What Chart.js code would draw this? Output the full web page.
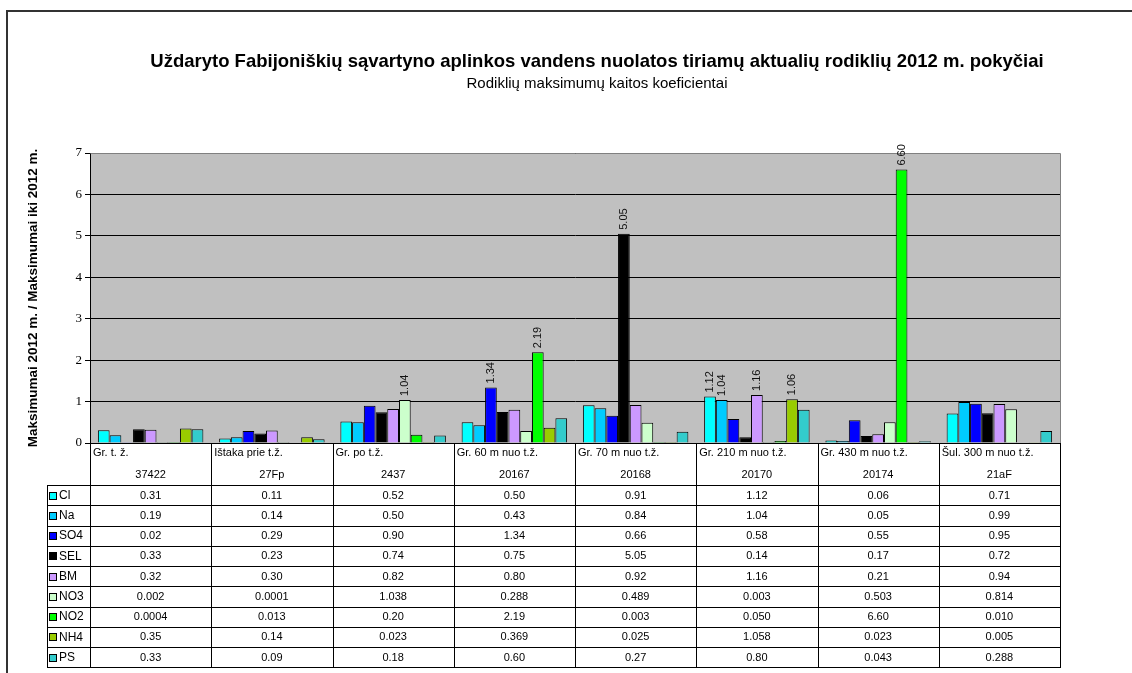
<!DOCTYPE html>
<html>
<head>
<meta charset="utf-8">
<script src="https://cdn.jsdelivr.net/npm/chart.js@4.4.1/dist/chart.umd.min.js"></script>
<style>
  html, body { margin: 0; padding: 0; background: #fff; }
  #wrap { position: relative; width: 1132px; height: 673px; overflow: hidden; }
  #frame { position: absolute; left: 6px; top: 10px; width: 1200px; height: 700px; border-left: 2px solid #333; border-top: 2px solid #333; }
  canvas { position: absolute; left: 0; top: 0; }
</style>
</head>
<body>
<div id="wrap">
  <div id="frame"></div>
  <canvas id="chart" width="1132" height="673"></canvas>
</div>
<script>
const stations = ['Gr. t. ž.', 'Ištaka prie t.ž.', 'Gr. po t.ž.', 'Gr. 60 m nuo t.ž.', 'Gr. 70 m nuo t.ž.', 'Gr. 210 m nuo t.ž.', 'Gr. 430 m nuo t.ž.', 'Šul. 300 m nuo t.ž.'];
const wells = ['37422', '27Fp', '2437', '20167', '20168', '20170', '20174', '21aF'];

// coefficient values as printed in the data table
const cl  = ['0.31', '0.11', '0.52', '0.50', '0.91', '1.12', '0.06', '0.71'];
const na  = ['0.19', '0.14', '0.50', '0.43', '0.84', '1.04', '0.05', '0.99'];
const so4 = ['0.02', '0.29', '0.90', '1.34', '0.66', '0.58', '0.55', '0.95'];
const sel = ['0.33', '0.23', '0.74', '0.75', '5.05', '0.14', '0.17', '0.72'];
const bm  = ['0.32', '0.30', '0.82', '0.80', '0.92', '1.16', '0.21', '0.94'];
const no3 = ['0.002', '0.0001', '1.038', '0.288', '0.489', '0.003', '0.503', '0.814'];
const no2 = ['0.0004', '0.013', '0.20', '2.19', '0.003', '0.050', '6.60', '0.010'];
const nh4 = ['0.35', '0.14', '0.023', '0.369', '0.025', '1.058', '0.023', '0.005'];
const ps  = ['0.33', '0.09', '0.18', '0.60', '0.27', '0.80', '0.043', '0.288'];

const seriesNames = ['Cl', 'Na', 'SO4', 'SEL', 'BM', 'NO3', 'NO2', 'NH4', 'PS'];
const seriesValues = [cl, na, so4, sel, bm, no3, no2, nh4, ps];
const seriesColors = ['#00FFFF', '#00CCFF', '#0000FF', '#000000', '#CC99FF', '#CCFFCC', '#00FF00', '#99CC00', '#33CCCC'];
const yMin = 0, yMax = 7, yStep = 1;

const SANS = '"Liberation Sans", Arial, sans-serif';
const SERIF = '"Liberation Serif", "Times New Roman", serif';

const crisp = v => Math.round(v) + 0.5;

const sheet = {
  id: 'sheet',
  beforeDraw(chart) {
    const { ctx, chartArea: a } = chart;
    ctx.save();
    ctx.fillStyle = '#C0C0C0';
    ctx.fillRect(a.left, a.top, a.right - a.left, a.bottom - a.top);
    ctx.restore();
  },
  afterDatasetsDraw(chart) {
    const { ctx, chartArea: a } = chart;
    ctx.save();
    // plot frame on top and right
    ctx.strokeStyle = '#808080';
    ctx.lineWidth = 1;
    ctx.beginPath();
    ctx.moveTo(crisp(a.left), crisp(a.top));
    ctx.lineTo(crisp(a.right), crisp(a.top));
    ctx.lineTo(crisp(a.right), crisp(a.bottom));
    ctx.stroke();

    // vertical value labels on bars reaching 1 and above
    ctx.fillStyle = '#111';
    ctx.font = '11px ' + SANS;
    ctx.textAlign = 'left';
    ctx.textBaseline = 'middle';
    seriesValues.forEach((vals, i) => {
      const meta = chart.getDatasetMeta(i);
      vals.forEach((v, j) => {
        const n = Number(v);
        if (n < 1) return;
        const bar = meta.data[j];
        ctx.save();
        ctx.translate(bar.x, bar.y - 4);
        ctx.rotate(-Math.PI / 2);
        ctx.fillText(n.toFixed(2), 0, 0);
        ctx.restore();
      });
    });
    ctx.restore();
  },
  afterDraw(chart) {
    const { ctx, chartArea: a } = chart;
    const n = stations.length;
    const colW = (a.right - a.left) / n;
    const top = a.bottom;
    const headH = 42;
    const rowH = 20.25;
    const legL = 47;
    const bodyTop = top + headH;
    const bottom = bodyTop + rowH * seriesNames.length;

    ctx.save();
    // titles
    ctx.fillStyle = '#000';
    ctx.textAlign = 'center';
    ctx.textBaseline = 'middle';
    ctx.font = 'bold 18.5px ' + SANS;
    ctx.fillText('Uždaryto Fabijoniškių sąvartyno aplinkos vandens nuolatos tiriamų aktualių rodiklių 2012 m. pokyčiai', 597, 62);
    ctx.font = '15px ' + SANS;
    ctx.fillText('Rodiklių maksimumų kaitos koeficientai', 597, 84);

    // data table grid
    ctx.strokeStyle = '#000';
    ctx.lineWidth = 1;
    ctx.beginPath();
    ctx.moveTo(a.left, crisp(top));
    ctx.lineTo(a.right + 1, crisp(top));
    for (let r = 0; r <= seriesNames.length; r++) {
      const y = crisp(bodyTop + r * rowH);
      ctx.moveTo(legL, y);
      ctx.lineTo(a.right + 1, y);
    }
    for (let i = 0; i <= n; i++) {
      const x = crisp(a.left + i * colW);
      ctx.moveTo(x, top);
      ctx.lineTo(x, crisp(bottom));
    }
    ctx.moveTo(crisp(legL), crisp(bodyTop));
    ctx.lineTo(crisp(legL), crisp(bottom));
    ctx.stroke();

    // column headers
    ctx.font = '11px ' + SANS;
    stations.forEach((s, i) => {
      const x0 = a.left + i * colW;
      ctx.textAlign = 'left';
      ctx.fillText(s, x0 + 3, top + 10);
      ctx.textAlign = 'center';
      ctx.fillText(wells[i], x0 + colW / 2, top + 32);
    });

    // rows: legend key + values
    seriesNames.forEach((name, r) => {
      const yMid = bodyTop + r * rowH + rowH / 2 + 0.5;
      ctx.fillStyle = seriesColors[r];
      ctx.fillRect(49.5, Math.round(yMid) - 3.5, 7, 7);
      ctx.strokeStyle = '#000';
      ctx.strokeRect(49.5, Math.round(yMid) - 3.5, 7, 7);
      ctx.fillStyle = '#000';
      ctx.textAlign = 'left';
      ctx.font = '12px ' + SANS;
      ctx.fillText(name, 59, yMid);
      ctx.textAlign = 'center';
      ctx.font = '11px ' + SANS;
      seriesValues[r].forEach((v, i) => {
        ctx.fillText(v, a.left + i * colW + colW / 2, yMid);
      });
    });
    ctx.restore();
  }
};

new Chart(document.getElementById('chart'), {
  type: 'bar',
  data: {
    labels: stations,
    datasets: seriesNames.map((name, i) => ({
      label: name,
      data: seriesValues[i].map(Number),
      backgroundColor: seriesColors[i],
      borderColor: '#000',
      borderWidth: 1,
      categoryPercentage: 0.87,
      barPercentage: 1,
    })),
  },
  options: {
    responsive: false,
    animation: false,
    devicePixelRatio: 1,
    layout: { padding: { left: 20, right: 72, top: 153, bottom: 230 } },
    plugins: { legend: { display: false }, tooltip: { enabled: false } },
    scales: {
      x: { display: false },
      y: {
        min: yMin,
        max: yMax,
        ticks: { stepSize: yStep, color: '#000', padding: 3, font: { family: SERIF, size: 13 } },
        grid: { color: '#000', lineWidth: 1, tickLength: 5 },
        border: { color: '#000', width: 1 },
        title: {
          display: true,
          text: 'Maksimumai 2012 m. / Maksimumai iki 2012 m.',
          color: '#000',
          font: { family: SANS, size: 13.5, weight: 'bold' },
          padding: { top: 5, bottom: 0 },
        },
        afterFit(scale) { scale.width = 70; },
      },
    },
  },
  plugins: [sheet],
});
</script>
</body>
</html>
